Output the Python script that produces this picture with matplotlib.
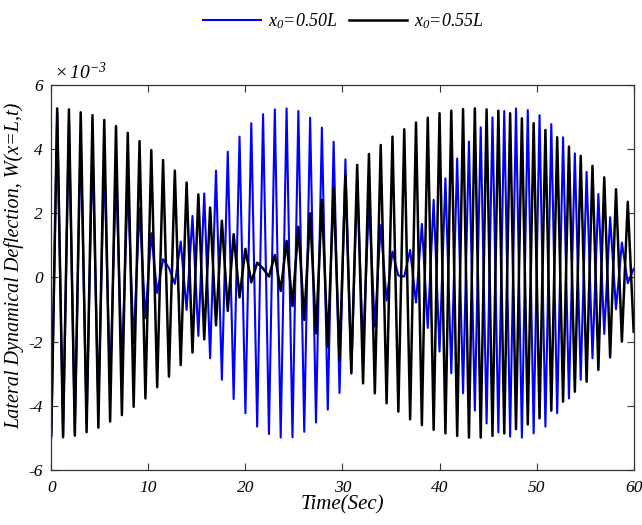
import numpy as np
import matplotlib
matplotlib.use("Agg")
import matplotlib.pyplot as plt

plt.rcParams["font.family"] = "Liberation Serif"
plt.rcParams["font.style"] = "italic"
plt.rcParams["mathtext.fontset"] = "custom"
plt.rcParams["mathtext.it"] = "Liberation Serif:italic"
plt.rcParams["mathtext.rm"] = "Liberation Serif:italic"
plt.rcParams["axes.unicode_minus"] = False

# sampled response, 100 points over 0..60 s (values in units of 1e-3)
time = np.linspace(0, 60, 100)

w_050 = [
    -5.00, 5.20, -4.95, 4.90, -4.80, 4.50, -4.55, 4.10, -4.10, 3.70,
    -3.45, 3.30, -2.73, 2.88, -2.05, 2.16, -1.27, 1.38, -0.48, 0.57,
    0.30, -0.20, 1.12, -1.01, 1.92, -1.82, 2.62, -2.52, 3.33, -3.19,
    3.92, -3.79, 4.39, -4.23, 4.81, -4.65, 5.09, -4.88, 5.24, -4.99,
    5.27, -4.98, 5.19, -4.81, 4.98, -4.52, 4.67, -4.12, 4.23, -3.60,
    3.68, -2.99, 3.05, -2.28, 2.36, -1.53, 1.63, -0.72, 0.81, 0.06,
    0.03, 0.86, -0.78, 1.67, -1.57, 2.42, -2.31, 3.09, -2.99, 3.71,
    -3.61, 4.24, -4.15, 4.68, -4.55, 4.99, -4.83, 5.19, -4.96, 5.27,
    -4.99, 5.22, -4.86, 5.06, -4.65, 4.78, -4.23, 4.37, -3.77, 3.87,
    -3.19, 3.29, -2.52, 2.60, -1.76, 1.88, -0.99, 1.09, -0.18, 0.27,
]

w_055 = [
    -4.90, 5.27, -4.98, 5.24, -4.93, 5.15, -4.82, 5.06, -4.68, 4.91,
    -4.49, 4.72, -4.29, 4.51, -4.03, 4.25, -3.77, 3.97, -3.42, 3.66,
    -3.09, 3.33, -2.73, 2.96, -2.34, 2.59, -1.93, 2.18, -1.49, 1.77,
    -1.04, 1.35, -0.62, 0.89, -0.15, 0.46, 0.28, 0.03, 0.70, -0.42,
    1.14, -0.89, 1.58, -1.32, 2.00, -1.74, 2.42, -2.16, 2.78, -2.57,
    3.19, -2.98, 3.51, -3.30, 3.85, -3.61, 4.13, -3.92, 4.39, -4.18,
    4.62, -4.42, 4.83, -4.60, 4.98, -4.75, 5.12, -4.86, 5.20, -4.94,
    5.25, -4.99, 5.27, -4.99, 5.24, -4.94, 5.20, -4.86, 5.12, -4.73,
    4.96, -4.58, 4.81, -4.39, 4.60, -4.15, 4.37, -3.87, 4.08, -3.56,
    3.79, -3.25, 3.48, -2.88, 3.12, -2.49, 2.75, -2.00, 2.36, -1.69,
]

labels = [r"$x_0$=0.50L", r"$x_0$=0.55L"]

fig = plt.figure(figsize=(6.42, 5.25), dpi=100)
ax = fig.add_axes([0.0799, 0.1048, 0.9071, 0.7333])

ax.plot(time, w_050, color="blue", lw=1.5, label=labels[0])
ax.plot(time, w_055, color="black", lw=1.8, label=labels[1])

ax.set_xlim(0, 60)
ax.set_ylim(-6, 6)
ax.set_xticks(np.arange(0, 61, 10))
ax.set_yticks(np.arange(-6, 7, 2))
ax.tick_params(direction="in", top=True, right=True, labelsize=12.5, length=5,
               width=0.8, color="#333333")
ax.tick_params(axis="x", pad=7)
ax.tick_params(axis="y", pad=6)
for s in ax.spines.values():
    s.set_linewidth(0.9)
    s.set_color("#333333")

ax.text(0.005, 1.005, r"$\times\,10^{-3}$", transform=ax.transAxes,
        fontsize=14, ha="left", va="bottom")

ax.set_xlabel("Time(Sec)", fontsize=15, labelpad=0)
ax.set_ylabel("Lateral Dynamical Deflection, W(x=L,t)", fontsize=14.5)
ax.yaxis.set_label_coords(-0.047, 0.53)

fig.legend(loc="upper center", bbox_to_anchor=(0.535, 1.01), ncol=2,
           frameon=False, fontsize=13, handlelength=3.2, columnspacing=0.6,
           handletextpad=0.4)

fig.savefig("out.png", dpi=100)
